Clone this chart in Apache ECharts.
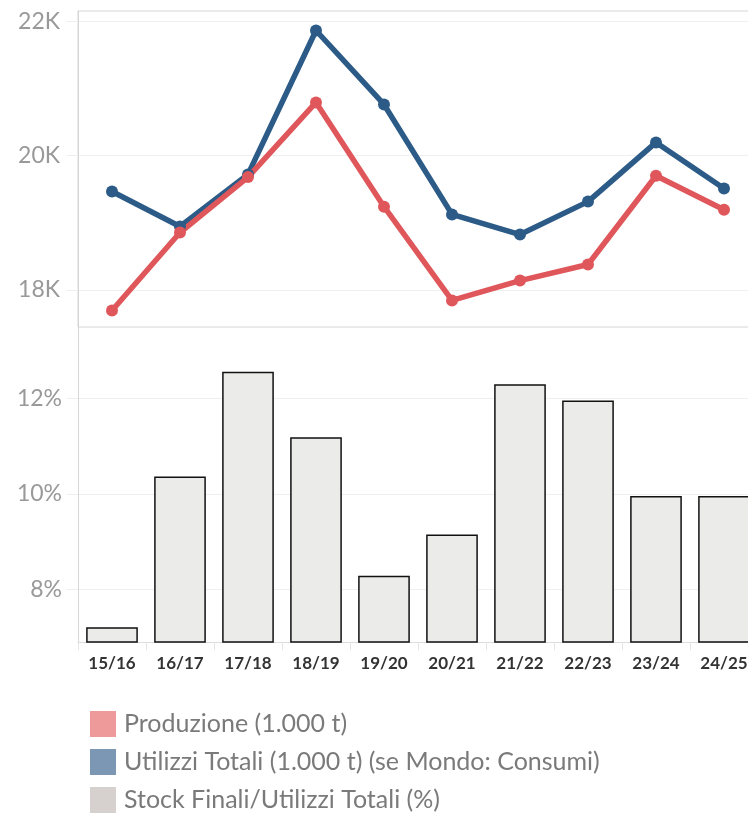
<!DOCTYPE html>
<html lang="it">
<head>
    <meta charset="UTF-8">
    <title>Produzione e utilizzi</title>
    <style>
        html, body { margin: 0; padding: 0; background: #fff; overflow: hidden; }
    </style>
</head>
<body>
<div id="main" style="width:758px;height:813px;"></div>
<script src="https://cdn.jsdelivr.net/npm/echarts@6/dist/echarts.min.js"></script>
<script>
    var campagne = ['15/16', '16/17', '17/18', '18/19', '19/20', '20/21', '21/22', '22/23', '23/24', '24/25'];
    var produzione = [17695, 18855, 19680, 20790, 19240, 17845, 18140, 18380, 19700, 19195];
    var utilizzi = [19465, 18945, 19720, 21860, 20760, 19125, 18825, 19315, 20195, 19510];
    var stockRatio = [7.21, 10.37, 12.56, 11.19, 8.29, 9.15, 12.30, 11.96, 9.96, 9.96];
    var tickTop = [18000, 20000, 22000];
    var tickBottom = [8, 10, 12];

    var font = 'Lato';
    var myChart = echarts.init(document.getElementById('main'));
    var option = {
        animation: false,
        backgroundColor: '#fff',
        textStyle: { fontFamily: font },
        grid: [
            { left: 78, top: 11, width: 680, height: 316, show: true, borderColor: '#d6d6d6', borderWidth: 1, backgroundColor: 'transparent' },
            { left: 78, top: 327, width: 680, height: 315 }
        ],
        legend: {
            orient: 'vertical',
            left: 85,
            top: 706,
            height: 120,
            itemWidth: 26,
            itemHeight: 26,
            itemGap: 12,
            selectedMode: false,
            textStyle: { fontSize: 25, color: '#7a7a7a', fontFamily: font, padding: [0, 0, 0, 3] },
            data: [
                { name: 'Produzione (1.000 t)', icon: 'rect', itemStyle: { color: '#ee9a9b', borderWidth: 0 } },
                { name: 'Utilizzi Totali (1.000 t) (se Mondo: Consumi)', icon: 'rect', itemStyle: { color: '#7b97b4', borderWidth: 0 } },
                { name: 'Stock Finali/Utilizzi Totali (%)', icon: 'rect', itemStyle: { color: '#d6d1ce', borderWidth: 0 } }
            ]
        },
        xAxis: [
            {
                type: 'category', gridIndex: 0, data: campagne,
                axisLine: { show: false }, axisTick: { show: false }, axisLabel: { show: false }
            },
            {
                type: 'category', gridIndex: 1, data: campagne,
                axisLine: { show: true, lineStyle: { color: '#dcdcdc', width: 1 } },
                axisTick: { show: true, length: 8, lineStyle: { color: '#e6e6e6' } },
                axisLabel: { color: '#333', fontSize: 17, fontWeight: 'bold', margin: 13, fontFamily: font }
            }
        ],
        yAxis: [
            {
                type: 'value', gridIndex: 0, min: 17450, max: 22150,
                axisLine: { show: true, lineStyle: { color: '#d6d6d6' } },
                axisTick: { show: true, length: 11, lineStyle: { color: '#eeeeee' }, customValues: tickTop },
                axisLabel: {
                    color: '#999', fontSize: 23, margin: 18, fontFamily: font, customValues: tickTop,
                    formatter: function (v) { return (v / 1000) + 'K'; }
                },
                splitLine: { show: true, lineStyle: { color: '#efefef', width: 1 } }
            },
            {
                type: 'value', gridIndex: 1, min: 6.9, max: 13.5,
                axisLine: { show: true, lineStyle: { color: '#d6d6d6' } },
                axisTick: { show: true, length: 11, lineStyle: { color: '#eeeeee' }, customValues: tickBottom },
                axisLabel: {
                    color: '#999', fontSize: 23, margin: 16, fontFamily: font, customValues: tickBottom,
                    formatter: function (v) { return v + '%'; }
                },
                splitLine: { show: true, lineStyle: { color: '#efefef', width: 1 } }
            }
        ],
        series: [
            {
                name: 'Stock Finali/Utilizzi Totali (%)',
                type: 'bar',
                xAxisIndex: 1, yAxisIndex: 1,
                data: stockRatio,
                barCategoryGap: '24%',
                itemStyle: { color: '#ebebea', borderColor: '#111', borderWidth: 1.5 }
            },
            {
                name: 'Utilizzi Totali (1.000 t) (se Mondo: Consumi)',
                type: 'line',
                xAxisIndex: 0, yAxisIndex: 0,
                data: utilizzi,
                symbol: 'circle',
                symbolSize: 12,
                lineStyle: { color: '#2c5b88', width: 5.5 },
                itemStyle: { color: '#2c5b88' }
            },
            {
                name: 'Produzione (1.000 t)',
                type: 'line',
                xAxisIndex: 0, yAxisIndex: 0,
                data: produzione,
                symbol: 'circle',
                symbolSize: 12,
                lineStyle: { color: '#e0575b', width: 5.5 },
                itemStyle: { color: '#e0575b' }
            }
        ]
    };
    myChart.setOption(option);
</script>
</body>
</html>
